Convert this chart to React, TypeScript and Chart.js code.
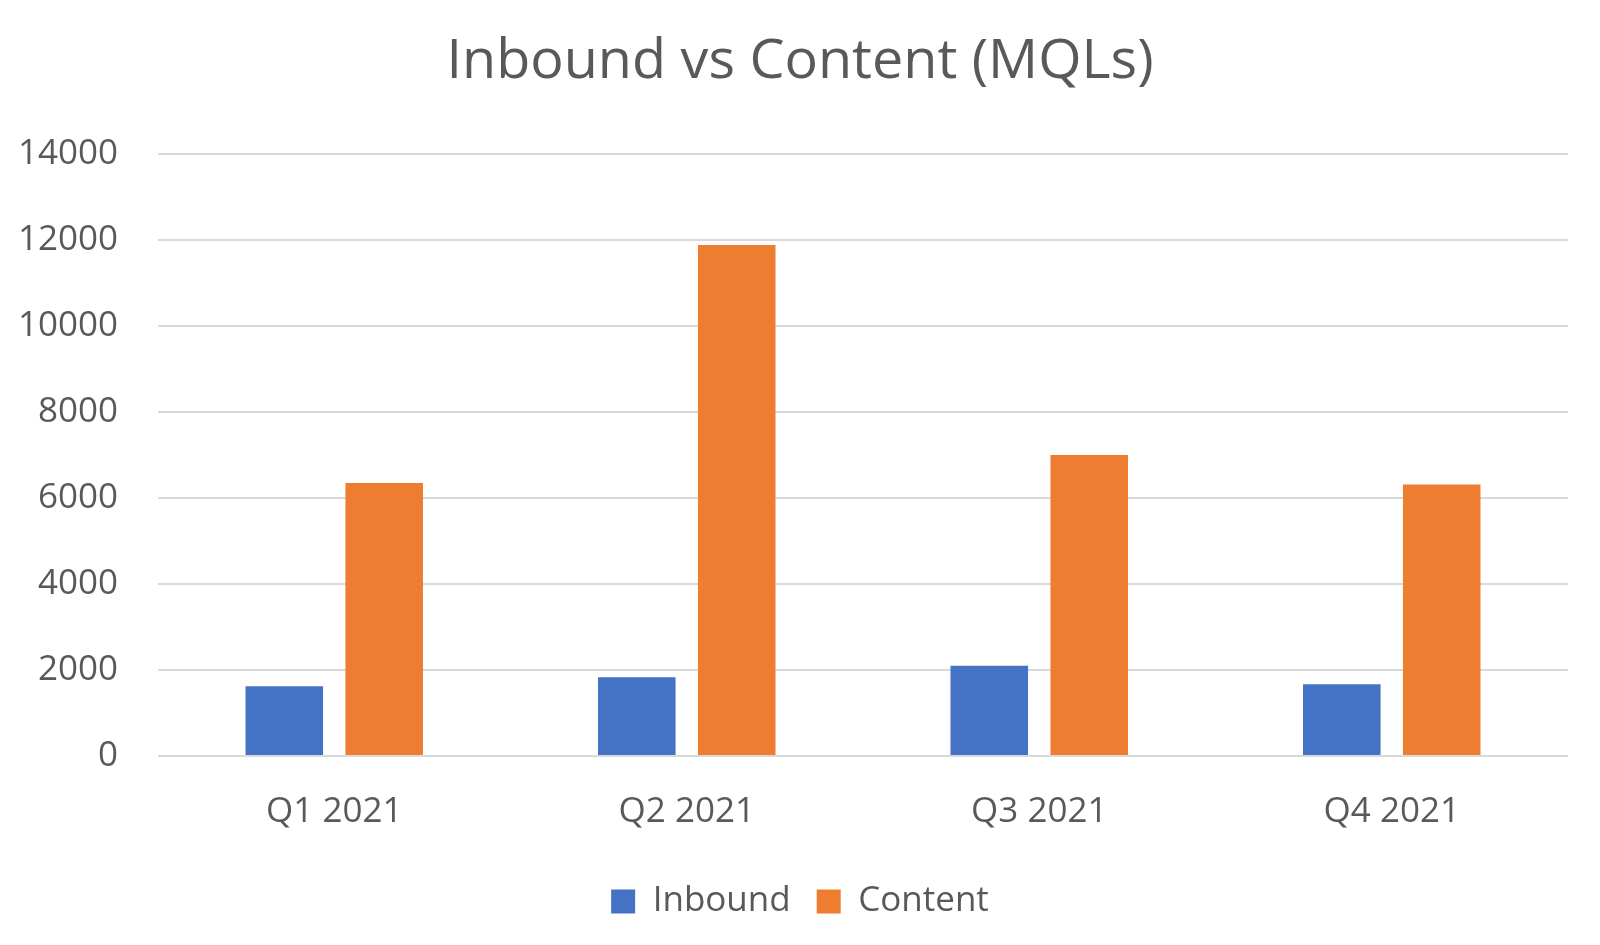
import React, { useEffect, useRef } from "react";
import { Chart, registerables } from "chart.js";

Chart.register(...registerables);

const categories = ["Q1 2021", "Q2 2021", "Q3 2021", "Q4 2021"];
const inboundValues = [1620, 1830, 2100, 1670];
const contentValues = [6350, 11880, 7000, 6310];
const yTickValues = [0, 2000, 4000, 6000, 8000, 10000, 12000, 14000];

const FONT = "'Open Sans', sans-serif";
const TEXT = "#595959";

export default function App() {
  const ref = useRef<HTMLCanvasElement | null>(null);

  useEffect(() => {
    document.body.style.margin = "0";
    const canvas = ref.current;
    if (!canvas) return;
    const chart = new Chart(canvas, {
      type: "bar",
      data: {
        labels: categories,
        datasets: [
          {
            label: "Inbound",
            data: inboundValues,
            backgroundColor: "#4472C4",
            categoryPercentage: 0.567,
            barPercentage: 0.776,
          },
          {
            label: "Content",
            data: contentValues,
            backgroundColor: "#ED7D31",
            categoryPercentage: 0.567,
            barPercentage: 0.776,
          },
        ],
      },
      options: {
        animation: false,
        responsive: false,
        maintainAspectRatio: false,
        layout: { padding: { left: 0, right: 0, top: 0, bottom: 16 } },
        plugins: {
          title: {
            display: true,
            text: "Inbound vs Content (MQLs)",
            color: TEXT,
            font: { family: FONT, size: 55.7, weight: "normal", lineHeight: 1.2 },
            padding: { top: 29, bottom: 58 },
          },
          legend: {
            position: "bottom",
            labels: {
              color: TEXT,
              font: { family: FONT, size: 35, lineHeight: 1.2 },
              boxWidth: 24,
              boxHeight: 24,
              padding: 26,
            },
          },
          tooltip: { enabled: false },
        },
        scales: {
          x: {
            grid: { display: false, drawTicks: false },
            border: { display: false },
            ticks: {
              color: TEXT,
              font: { family: FONT, size: 35, lineHeight: 1.2 },
              padding: 35,
            },
            afterFit: (scale: any) => {
              scale.height = 102;
            },
          },
          y: {
            min: 0,
            max: 14000,
            afterBuildTicks: (scale: any) => {
              scale.ticks = yTickValues.map((v) => ({ value: v }));
            },
            grid: { color: "#d9d9d9", lineWidth: 2, drawTicks: false },
            border: { display: false },
            ticks: {
              color: TEXT,
              font: { family: FONT, size: 35, lineHeight: 1.2 },
              padding: 40,
              callback: (v: any) => String(v),
            },
            afterFit: (scale: any) => {
              scale.width = 158;
            },
          },
          yRight: {
            position: "right",
            min: 0,
            max: 14000,
            grid: { display: false, drawTicks: false },
            border: { display: false },
            ticks: { display: false },
            afterFit: (scale: any) => {
              scale.width = 32;
            },
          },
        },
      },
    });
    return () => chart.destroy();
  }, []);

  return (
    <div style={{ width: 1600, height: 945, background: "#fff" }}>
      <canvas ref={ref} width={1600} height={945} style={{ display: "block" }} />
    </div>
  );
}
